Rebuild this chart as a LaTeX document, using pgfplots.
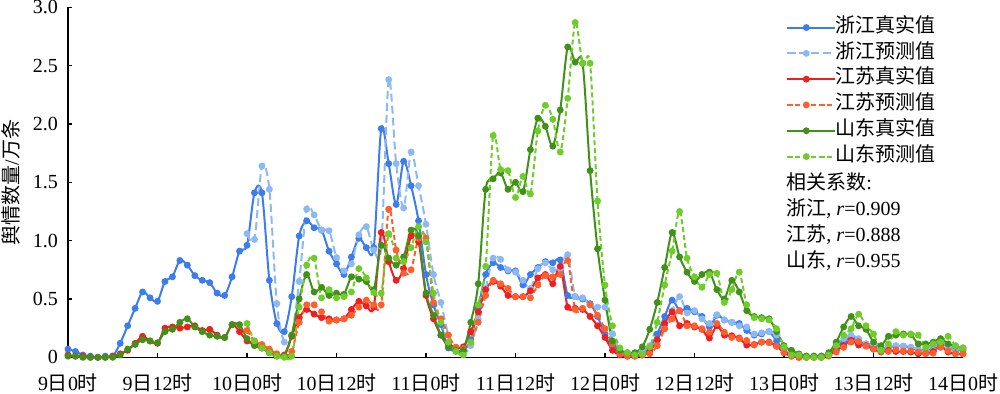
\documentclass[border=0pt]{standalone}
\usepackage{fontspec}
\setmainfont{Liberation Serif}
\newfontfamily\cjk{Noto Sans CJK SC}
\usepackage{pgfplots}
\usepackage{pgfplotstable}
\pgfplotsset{compat=1.18}
\definecolor{zjt}{RGB}{60,125,235}
\definecolor{zjp}{RGB}{140,185,245}
\definecolor{jst}{RGB}{240,30,30}
\definecolor{jsp}{RGB}{255,95,45}
\definecolor{sdt}{RGB}{65,145,25}
\definecolor{sdp}{RGB}{110,205,40}
\newcommand{\dt}[2]{#1{\cjk 日}#2{\cjk 时}}

\pgfplotstableread{
h zj js sd
0 0.07 0.02 0.01
1 0.05 0.01 0.01
2 0.02 0.01 0.00
3 0.01 0.00 0.00
4 0.00 0.00 0.00
5 0.01 0.00 0.00
6 0.01 0.01 0.00
7 0.12 0.03 0.02
8 0.27 0.06 0.07
9 0.42 0.12 0.11
10 0.56 0.18 0.15
11 0.51 0.14 0.14
12 0.48 0.12 0.125
13 0.65 0.25 0.22
14 0.69 0.26 0.24
15 0.83 0.25 0.30
16 0.79 0.26 0.33
17 0.70 0.27 0.26
18 0.66 0.23 0.22
19 0.64 0.24 0.19
20 0.55 0.19 0.18
21 0.53 0.17 0.17
22 0.69 0.28 0.28
23 0.91 0.22 0.28
24 0.96 0.14 0.16
25 1.41 0.11 0.10
26 1.41 0.08 0.08
27 0.66 0.04 0.04
28 0.29 0.02 0.01
29 0.22 0.02 0.01
30 0.52 0.18 0.19
31 1.04 0.34 0.50
32 1.17 0.41 0.71
33 1.11 0.37 0.56
34 1.09 0.34 0.60
35 0.91 0.33 0.53
36 0.80 0.32 0.55
37 0.71 0.33 0.54
38 0.86 0.41 0.69
39 1.02 0.48 0.67
40 0.94 0.44 0.65
41 0.94 0.43 0.58
42 1.96 1.07 0.96
43 1.66 0.82 0.85
44 1.31 0.66 0.79
45 1.68 0.76 0.86
46 1.47 1.04 1.09
47 1.17 0.99 1.04
48 0.71 0.53 0.55
49 0.45 0.33 0.36
50 0.28 0.19 0.19
51 0.08 0.115 0.09
52 0.06 0.085 0.06
53 0.06 0.09 0.06
54 0.15 0.22 0.30
55 0.42 0.39 0.63
56 0.71 0.58 1.44
57 0.81 0.65 1.53
58 0.77 0.61 1.58
59 0.74 0.53 1.44
60 0.74 0.52 1.50
61 0.62 0.52 1.42
62 0.71 0.57 1.78
63 0.77 0.68 2.05
64 0.82 0.71 1.98
65 0.81 0.63 1.81
66 0.835 0.78 2.12
67 0.53 0.43 2.66
68 0.52 0.42 2.53
69 0.50 0.41 2.52
70 0.46 0.35 1.60
71 0.35 0.27 0.93
72 0.19 0.17 0.49
73 0.09 0.06 0.14
74 0.04 0.02 0.06
75 0.03 0.01 0.04
76 0.02 0.01 0.04
77 0.04 0.02 0.09
78 0.08 0.05 0.24
79 0.20 0.15 0.47
80 0.35 0.29 0.77
81 0.49 0.39 1.07
82 0.40 0.27 0.86
83 0.42 0.29 0.73
84 0.39 0.26 0.65
85 0.35 0.24 0.71
86 0.26 0.165 0.73
87 0.36 0.27 0.58
88 0.32 0.19 0.50
89 0.30 0.185 0.66
90 0.29 0.165 0.56
91 0.23 0.105 0.40
92 0.19 0.11 0.35
93 0.20 0.13 0.34
94 0.22 0.13 0.33
95 0.14 0.095 0.22
96 0.06 0.04 0.10
97 0.02 0.01 0.06
98 0.01 0.00 0.03
99 0.01 0.00 0.01
100 0.01 0.00 0.01
101 0.01 0.00 0.01
102 0.03 0.02 0.04
103 0.09 0.06 0.13
104 0.13 0.10 0.26
105 0.17 0.145 0.35
106 0.135 0.105 0.27
107 0.115 0.10 0.24
108 0.085 0.07 0.13
109 0.07 0.045 0.10
110 0.085 0.06 0.18
111 0.095 0.05 0.19
112 0.095 0.05 0.20
113 0.085 0.045 0.195
114 0.06 0.03 0.115
115 0.065 0.035 0.115
116 0.07 0.05 0.13
117 0.12 0.095 0.16
118 0.085 0.045 0.115
119 0.06 0.03 0.095
120 0.06 0.03 0.08
}\truedata

\pgfplotstableread{
h zj js sd
24 1.06 0.23 0.29
25 1.01 0.14 0.14
26 1.64 0.11 0.08
27 1.44 0.07 0.04
28 0.46 0.03 0.01
29 0.13 0.01 0.00
30 0.19 0.05 0.01
31 0.65 0.30 0.43
32 1.27 0.45 0.79
33 1.22 0.45 0.85
34 1.09 0.39 0.51
35 1.085 0.31 0.58
36 0.855 0.32 0.51
37 0.74 0.33 0.52
38 0.80 0.36 0.56
39 1.05 0.43 0.76
40 1.12 0.49 0.68
41 0.92 0.45 0.555
42 0.95 0.45 0.55
43 2.38 1.27 1.06
44 1.66 0.92 0.85
45 1.28 0.72 0.82
46 1.76 0.75 0.94
47 1.47 1.02 1.12
48 1.14 1.02 0.99
49 0.71 0.47 0.55
50 0.47 0.33 0.30
51 0.19 0.19 0.13
52 0.05 0.085 0.05
53 0.03 0.075 0.02
54 0.10 0.13 0.13
55 0.33 0.30 0.45
56 0.59 0.53 0.78
57 0.85 0.66 1.90
58 0.84 0.63 1.61
59 0.75 0.59 1.60
60 0.73 0.52 1.37
61 0.66 0.52 1.55
62 0.59 0.51 1.40
63 0.76 0.62 1.94
64 0.81 0.70 2.16
65 0.75 0.69 2.04
66 0.76 0.71 1.76
67 0.88 0.83 2.22
68 0.52 0.41 2.87
69 0.51 0.42 2.52
70 0.45 0.45 2.52
71 0.43 0.36 1.34
72 0.43 0.245 0.62
73 0.20 0.115 0.27
74 0.06 0.03 0.08
75 0.03 0.01 0.04
76 0.03 0.01 0.02
77 0.05 0.02 0.03
78 0.10 0.03 0.09
79 0.12 0.10 0.30
80 0.245 0.245 0.62
81 0.40 0.33 0.91
82 0.52 0.40 1.25
83 0.38 0.27 0.85
84 0.40 0.27 0.69
85 0.33 0.245 0.60
86 0.29 0.215 0.71
87 0.365 0.29 0.72
88 0.32 0.215 0.47
89 0.30 0.17 0.58
90 0.27 0.16 0.73
91 0.26 0.145 0.45
92 0.20 0.105 0.34
93 0.21 0.13 0.33
94 0.22 0.125 0.32
95 0.19 0.095 0.245
96 0.07 0.045 0.09
97 0.02 0.01 0.02
98 0.01 0.00 0.02
99 0.00 0.00 0.00
100 0.00 0.00 0.00
101 0.01 0.00 0.00
102 0.02 0.01 0.02
103 0.10 0.045 0.10
104 0.16 0.085 0.19
105 0.19 0.13 0.245
106 0.16 0.135 0.37
107 0.115 0.095 0.27
108 0.11 0.07 0.20
109 0.065 0.05 0.06
110 0.085 0.05 0.115
111 0.10 0.065 0.22
112 0.095 0.055 0.19
113 0.085 0.055 0.20
114 0.07 0.045 0.19
115 0.055 0.03 0.085
116 0.06 0.035 0.115
117 0.135 0.085 0.13
118 0.085 0.055 0.18
119 0.07 0.03 0.10
120 0.06 0.03 0.08
}\preddata

\begin{document}
\begin{tikzpicture}
\begin{axis}[
  at={(0,0)}, anchor=south west,
  scale only axis, width=447.5pt, height=175pt,
  xmin=0, xmax=120, ymin=0, ymax=3,
  clip=false,
  axis x line*=bottom, axis y line*=left,
  axis line style={line width=0.7pt, -},
  every tick/.style={black, line width=0.7pt},
  major tick length=2.2pt,
  tick align=inside,
  xtick={0,12,...,120},
  xticklabels={\dt{9}{0},\dt{9}{12},\dt{10}{0},\dt{10}{12},\dt{11}{0},\dt{11}{12},\dt{12}{0},\dt{12}{12},\dt{13}{0},\dt{13}{12},\dt{14}{0}},
  ytick={0,0.5,...,3},
  yticklabels={0,0.5,1.0,1.5,2.0,2.5,3.0},
  tick label style={font=\fontsize{10}{12}\selectfont},
  xticklabel style={yshift=-4.5pt},
  yticklabel style={xshift=-1.5pt},
  every axis plot/.append style={line width=1pt, smooth, tension=0.5, mark=*, mark size=1.2pt},
  legend image code/.code={\draw[mark repeat=2,mark phase=2,#1] plot coordinates {(0pt,0pt)(9.75pt,0pt)(19.5pt,0pt)};\path (0pt,0pt) -- (24pt,0pt);},
  legend style={draw=none, fill=none, at={(axis description cs:0.802,0.979)}, anchor=north west,
    inner sep=0pt, outer sep=0pt, row sep=0pt,
    font=\fontsize{10}{12}\selectfont,
    nodes={inner sep=0pt, text height=8.8pt, text depth=4.1pt, anchor=west}},
  legend cell align=left,
]
\addplot[color=zjt, mark options={fill=zjt, draw=zjt}] table[x=h,y=zj]{\truedata};
\addlegendentry{\cjk 浙江真实值}
\addplot[color=zjp, dash pattern=on 4pt off 2pt, mark options={solid, fill=zjp, draw=zjp}] table[x=h,y=zj]{\preddata};
\addlegendentry{\cjk 浙江预测值}
\addplot[color=jst, mark options={fill=jst, draw=jst}] table[x=h,y=js]{\truedata};
\addlegendentry{\cjk 江苏真实值}
\addplot[color=jsp, dash pattern=on 2.5pt off 1.5pt, mark options={solid, fill=jsp, draw=jsp}] table[x=h,y=js]{\preddata};
\addlegendentry{\cjk 江苏预测值}
\addplot[color=sdt, mark options={fill=sdt, draw=sdt}] table[x=h,y=sd]{\truedata};
\addlegendentry{\cjk 山东真实值}
\addplot[color=sdp, dash pattern=on 2.5pt off 1.5pt, mark options={solid, fill=sdp, draw=sdp}] table[x=h,y=sd]{\preddata};
\addlegendentry{\cjk 山东预测值}
\end{axis}
\begin{scope}[every node/.style={anchor=west, inner sep=0pt, font=\fontsize{10}{12}\selectfont}]
\node at (359pt,87.65pt) {{\cjk 相关系数}:};
\node at (359pt,74.5pt) {{\cjk 浙江}, \textit{r}=0.909};
\node at (359pt,61.15pt) {{\cjk 江苏}, \textit{r}=0.888};
\node at (359pt,48.3pt) {{\cjk 山东}, \textit{r}=0.955};
\end{scope}
\node[rotate=90, font=\fontsize{10}{12}\selectfont, inner sep=0pt] at (-28.5pt,87.5pt) {{\cjk 舆情数量}/{\cjk 万条}};
\pgfresetboundingbox
\path[use as bounding box] (-34pt,-17.85pt) rectangle (466pt,178.65pt);
\end{tikzpicture}
\end{document}
